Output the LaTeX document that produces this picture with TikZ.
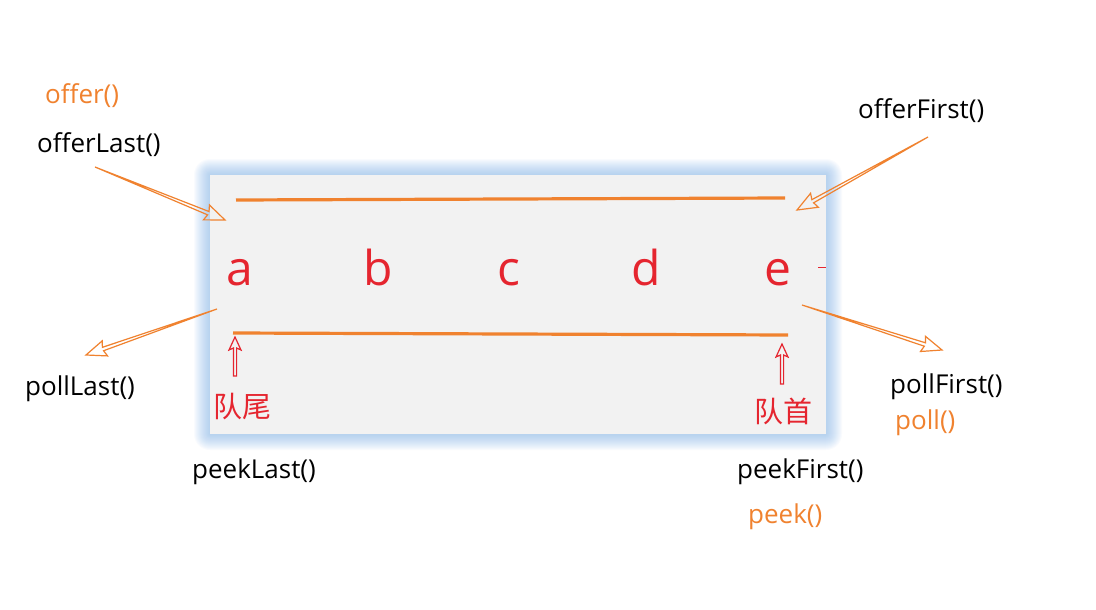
\documentclass[tikz,border=0pt]{standalone}
\usepackage{fontspec}
\setmainfont{Open Sans}
\newfontfamily\cjk{Noto Sans CJK SC}
\usetikzlibrary{calc}
\definecolor{orng}{HTML}{F0822F}
\definecolor{lred}{HTML}{E5252F}
\definecolor{boxgray}{HTML}{F2F2F2}
\definecolor{glowblue}{HTML}{7FB2EE}
\newcommand\hollowarrow[6]{%
  \draw[#1, line width=1.2pt, line join=miter]
    let \p1=($(#3)-(#2)$), \n1={atan2(\y1,\x1)}, \n2={veclen(\x1,\y1)} in
    [shift={(#2)}, rotate=\n1]
    (0,#6) -- (\n2-#5+2,#6) -- (\n2-#5,#4) -- (\n2,0) -- (\n2-#5,-#4) -- (\n2-#5+2,-#6) -- (0,-#6) -- cycle;}
\newcommand\hollowarrowtaper[5]{%
  \draw[#1, line width=1.2pt, line join=miter]
    let \p1=($(#3)-(#2)$), \n1={atan2(\y1,\x1)}, \n2={veclen(\x1,\y1)} in
    [shift={(#2)}, rotate=\n1]
    (0,0) -- (\n2-#5+2,1.8) -- (\n2-#5,#4) -- (\n2,0) -- (\n2-#5,-#4) -- (\n2-#5+2,-1.8) -- cycle;}
\tikzset{
  lbl/.style={anchor=base west, inner sep=0pt, font=\fontsize{26}{30}\selectfont},
  olbl/.style={lbl, text=orng},
  letter/.style={anchor=base, inner sep=0pt, text=lred, font=\fontsize{48}{52}\selectfont},
  cjklbl/.style={anchor=base west, inner sep=0pt, text=lred, font=\cjk\fontsize{29}{32}\selectfont},
  qline/.style={orng, line width=3.2pt},
}
\begin{document}
\begin{tikzpicture}[x=1pt, y=-1pt]
\useasboundingbox (0,0) rectangle (1096,610);
\fill[white] (0,0) rectangle (1096,610);
% glow
\foreach \i in {16,15,...,1}
  \fill[glowblue, opacity=0.045, rounded corners=\i pt] (210-\i,175-\i) rectangle (826+\i,434+\i);
\fill[boxgray] (210,175) rectangle (826,434);
% lines
\coordinate (t1) at (236,200); \coordinate (t2) at (785,198);
\coordinate (b1) at (233,333); \coordinate (b2) at (788,335);
\draw[qline] (t1) -- (t2);
\draw[qline] (b1) -- (b2);
% letters
\node[letter] (a) at (240,285) {a};
\node[letter] (b) at (378,285) {b};
\node[letter] (c) at (509,285) {c};
\node[letter] (d) at (646,285) {d};
\node[letter] (e) at (778,285) {e};
\coordinate (m1) at (818,267); \coordinate (m2) at (826,267);
\draw[lred, line width=1pt] (m1) -- (m2);
% tail/head labels
\node[cjklbl] (tail) at (213,417) {队尾};
\node[cjklbl] (head) at (754,422) {队首};
\coordinate (ua1) at (235,376); \coordinate (ua2) at (235,337);
\coordinate (ub1) at (782,384); \coordinate (ub2) at (782,344);
\hollowarrow{lred}{ua1}{ua2}{6}{13}{1.6}
\hollowarrow{lred}{ub1}{ub2}{6}{13}{1.6}
% method labels
\node[olbl] (offer) at (45,103) {offer()};
\node[lbl] (offerLast) at (37,152) {offerLast()};
\node[lbl] (offerFirst) at (858,118) {offerFirst()};
\node[lbl] (pollLast) at (25,395) {pollLast()};
\node[lbl] (pollFirst) at (890,393) {pollFirst()};
\node[olbl] (poll) at (895,429) {poll()};
\node[lbl] (peekLast) at (192,478) {peekLast()};
\node[lbl] (peekFirst) at (737,478) {peekFirst()};
\node[olbl] (peek) at (748,523) {peek()};
% arrows
\coordinate (oL1) at (95,167); \coordinate (oL2) at (225,220);
\coordinate (oF1) at (928,137); \coordinate (oF2) at (797,210);
\coordinate (pL1) at (217,309); \coordinate (pL2) at (86,355);
\coordinate (pF1) at (802,305); \coordinate (pF2) at (942,350);
\hollowarrowtaper{orng}{oL1}{oL2}{8}{20}
\hollowarrowtaper{orng}{oF1}{oF2}{8}{20}
\hollowarrowtaper{orng}{pL1}{pL2}{8}{20}
\hollowarrowtaper{orng}{pF1}{pF2}{8}{20}
\end{tikzpicture}
\end{document}
